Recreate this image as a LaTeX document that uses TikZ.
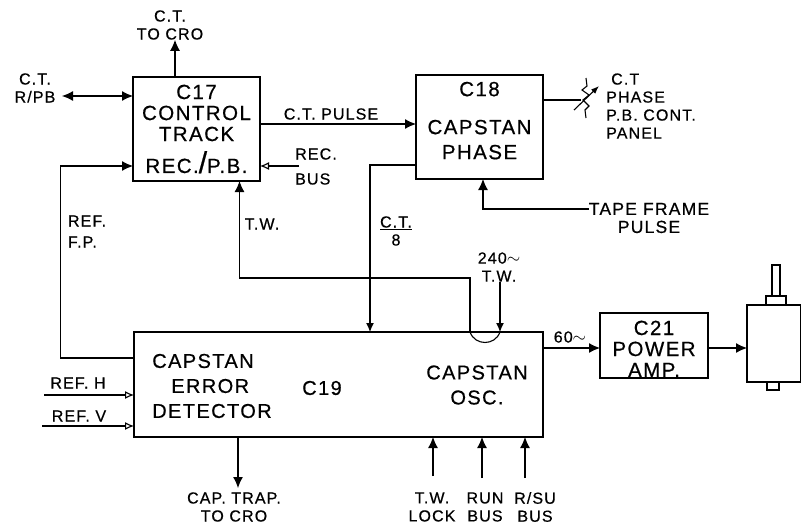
\documentclass[tikz,border=0pt]{standalone}
\usepackage{fontspec}
\setmainfont[LetterSpace=7,FakeBold=0.6]{Liberation Sans}
\usepackage{tikz}
\usetikzlibrary{arrows.meta,positioning}

\begin{document}
\begin{tikzpicture}[
  x=1pt, y=-1pt,
  box/.style={draw, line width=1.5pt, outer sep=0pt, inner sep=0pt, align=center, font=\fontsize{20.5}{21}\selectfont},
  big/.style={align=center, inner sep=0pt, font=\fontsize{20}{25}\selectfont},
  lab/.style={align=center, inner sep=0pt, font=\fontsize{16}{18}\selectfont},
  lableft/.style={lab, align=left},
  wire/.style={line width=1.1pt},
  arr/.style={wire, -{Latex[length=11pt,width=10pt]}},
  arrs/.style={wire, -{Latex[length=9pt,width=8pt]}},
  arro/.style={wire, -{Latex[open,length=9pt,width=8pt]}},
  motor/.style={draw, line width=1.2pt, fill=white, inner sep=0pt, outer sep=0pt}
]
\useasboundingbox (0,0) rectangle (801,525);
\node[box, minimum width=127pt, minimum height=104pt] (c17) at (196.5,129) {C17\\CONTROL\\TRACK\\[9pt]REC.{\fontsize{30}{21}\selectfont/}P.B.};
\node[box, minimum width=127pt, minimum height=104pt, right=156pt of c17, yshift=2pt] (c18) {C18\\[17pt]CAPSTAN\\[4pt]PHASE\\[-8pt]\mbox{}};
\node[box, minimum width=409pt, minimum height=105pt] (c19) at (338.5,384.5) {};
\node[box, minimum width=108pt, minimum height=65pt] (c21) at (654,345.5) {\rule{0pt}{21pt}C21\\POWER\\AMP.};
\node[motor, minimum width=54pt, minimum height=77pt] (body) at (774,343.5) {};
\node[motor, minimum width=20pt, minimum height=9pt, above=0pt of body.north, xshift=2pt] (collar) {};
\node[motor, minimum width=8pt, minimum height=31pt, above=0pt of collar] (shaft) {};
\node[motor, minimum width=12pt, minimum height=8pt, below=0pt of body.south, xshift=-1pt] (nub) {};

\node[big, align=left] (err) at (212,386) {CAPSTAN\\\hspace{19pt}ERROR\\DETECTOR};
\node[big] (c19name) at (322,388) {C19};
\node[big] (osc) at (477,385) {CAPSTAN\\OSC.};

\node[lab] (ctcro) at (170,25) {C.T.\\TO CRO};
\node[lab] (ctrpb) at (35,88) {C.T.\\R/PB};
\node[lab] (pulse) at (331,114) {C.T. PULSE};
\node[lableft, font=\fontsize{16}{25}\selectfont] (recbus) at (316,166.5) {REC.\\BUS};
\node[lableft, font=\fontsize{16}{21}\selectfont] (reffp) at (87,231.5) {REF.\\F.P.};
\node[lab] (tw) at (262,224) {T.W.};
\node[lab] (ctover) at (396,231) {\underline{C.T.}\\8};
\node[lab] (twosc) at (499,267) {240$\sim$\\T.W.};
\node[lableft] (panel) at (651,106) {\hspace{5pt}C.T\\PHASE\\P.B. CONT.\\PANEL};
\node[lab, font=\fontsize{17.5}{18}\selectfont] (frame) at (649,218) {TAPE FRAME\\PULSE};
\node[lab] (refh) at (78,383) {REF. H};
\node[lab] (refv) at (79,416) {REF. V};
\node[lab] (trap) at (234,507) {CAP. TRAP.\\TO CRO};
\node[lab] (lock) at (432,507) {T.W.\\LOCK};
\node[lab] (run) at (485,507) {RUN\\BUS};
\node[lab] (rsu) at (535,507) {R/SU\\BUS};
\node[lab] (sixty) at (570,337) {60$\sim$};

\coordinate (rpbend) at (62,96);
\coordinate (rpbin) at (133,96);
\coordinate (recend) at (299,166);
\coordinate (fpcorner) at (60.5,358);
\coordinate (vr) at (581,100);
\coordinate (ctx) at (370,165);
\coordinate (twcorner) at (239.5,278);
\coordinate (jumpa) at (470,332);
\coordinate (jumpb) at (500,332);
\coordinate (framecorner) at (483,209);
\coordinate (hend) at (44,395);
\coordinate (vend) at (42,426);
\coordinate (drive) at (650,348);

\draw[arr] (c17.north -| 175,0) -- (ctcro.south -| 175,0);
\draw[wire, {Latex[length=11pt,width=10pt]}-{Latex[length=11pt,width=10pt]}] (rpbend) -- (rpbin);
\draw[arr] (c17.east |- 0,124) -- (c18.west |- 0,124);
\draw[arro] (recend) -- (c17.east |- recend);
\draw[arr] (c19.west |- fpcorner) -- (fpcorner) |- (c17.west |- 0,166);
\draw[arr] (jumpa) -- (jumpa |- twcorner) -- (twcorner) -- (c17.south -| twcorner);
\draw[wire] (jumpa) .. controls (475,346) and (495,346) .. (jumpb);
\draw[arrs] (twosc.south -| jumpb) -- (jumpb);
\draw[arrs] (c18.west |- ctx) -- (ctx) -- (ctx |- c19.north);
\draw[arr] (frame.west |- framecorner) -- (framecorner) -- (framecorner |- c18.south);
\draw[wire] (c18.east |- vr) -- (vr);
\draw[wire] (586,78) -- (587,86) -- (582,90) -- (589,95) -- (583,100) -- (589,106) -- (585,110) -- (586,118);
\draw[wire, -{Latex[length=8pt,width=6pt]}] (574,110) -- (599,86);
\draw[arro] (hend) -- (c19.west |- hend);
\draw[arro] (vend) -- (c19.west |- vend);
\draw[arr] (c19.south -| 238,0) -- (238,488);
\draw[arr] (433,476) -- (c19.south -| 433,0);
\draw[arr] (482,478) -- (c19.south -| 482,0);
\draw[arr] (525,478) -- (c19.south -| 525,0);
\draw[arr] (c19.east |- drive) -- (c21.west |- drive);
\draw[arr] (c21.east |- drive) -- (body.west |- drive);
\end{tikzpicture}
\end{document}
